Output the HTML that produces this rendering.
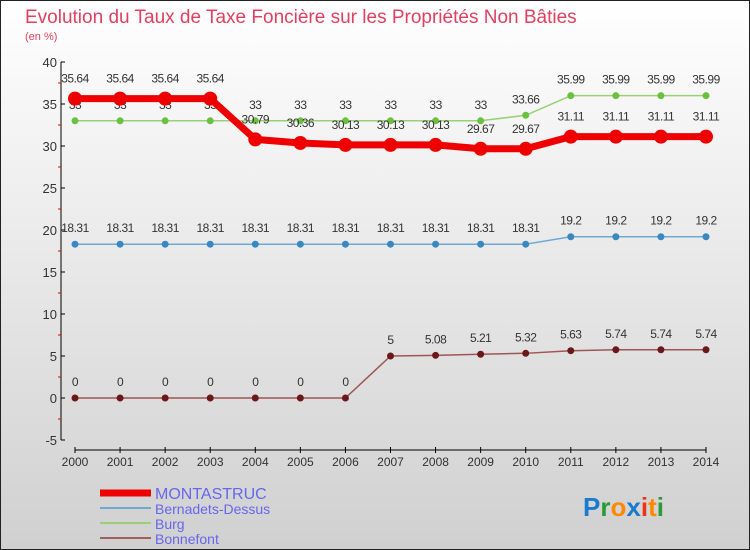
<!DOCTYPE html>
<html><head><meta charset="utf-8"><style>
html,body{margin:0;padding:0}
body{width:750px;height:550px;overflow:hidden;font-family:"Liberation Sans",sans-serif}
#wrap{position:absolute;left:0;top:0;width:748px;height:548px;border:1px solid #222;background:linear-gradient(#ffffff,#d0d0d0)}
</style></head><body>
<div id="wrap"></div>
<svg id="chart" width="750" height="550" style="position:absolute;left:0;top:0">
<text x="25" y="23" font-size="19" fill="#e04060">Evolution du Taux de Taxe Foncière sur les Propriétés Non Bâties</text>
<text x="25" y="40" font-size="11" fill="#e04060">(en %)</text>
<g id="axes"></g><g id="series"></g>
<g>
<line x1="100" y1="493" x2="151" y2="493" stroke="#ee0000" stroke-width="7"/>
<text x="155" y="499" font-size="16" fill="#6666ee">MONTASTRUC</text>
<line x1="100" y1="508" x2="151" y2="508" stroke="#6fa8d0" stroke-width="2"/>
<text x="155" y="514" font-size="14" fill="#6666ee">Bernadets-Dessus</text>
<line x1="100" y1="523" x2="151" y2="523" stroke="#99d077" stroke-width="2"/>
<text x="155" y="529" font-size="14" fill="#6666ee">Burg</text>
<line x1="100" y1="538" x2="151" y2="538" stroke="#a06060" stroke-width="2"/>
<text x="155" y="544" font-size="14" fill="#6666ee">Bonnefont</text>
</g>
<text x="583" y="516" font-size="26" font-weight="bold"><tspan fill="#1a7acc">P</tspan><tspan fill="#2a9a3a">r</tspan><tspan fill="#ff8800">o</tspan><tspan fill="#1a7acc">x</tspan><tspan fill="#ee3311">i</tspan><tspan fill="#ff8800">t</tspan><tspan fill="#2a9a3a">i</tspan></text>
</svg>
<script>
const years=[2000,2001,2002,2003,2004,2005,2006,2007,2008,2009,2010,2011,2012,2013,2014];
const montastruc=[35.64,35.64,35.64,35.64,30.79,30.36,30.13,30.13,30.13,29.67,29.67,31.11,31.11,31.11,31.11];
const bernadets=[18.31,18.31,18.31,18.31,18.31,18.31,18.31,18.31,18.31,18.31,18.31,19.2,19.2,19.2,19.2];
const burg=[33,33,33,33,33,33,33,33,33,33,33.66,35.99,35.99,35.99,35.99];
const bonnefont=[0,0,0,0,0,0,0,5,5.08,5.21,5.32,5.63,5.74,5.74,5.74];
const yTicks=[-5,0,5,10,15,20,25,30,35,40];
const NS="http://www.w3.org/2000/svg";
const X=i=>75+i*(706-75)/(years.length-1);
const Y=v=>398-v*8.4;
function mk(t,a,p){const e=document.createElementNS(NS,t);for(const k in a)e.setAttribute(k,a[k]);p.appendChild(e);return e;}
const ax=document.getElementById('axes');
let l=mk('line',{x1:61,y1:62,x2:61,y2:440,stroke:'#000','stroke-width':1},ax);


yTicks.forEach(v=>{
  mk('line',{x1:61,y1:Y(v),x2:65,y2:Y(v),stroke:'#000'},ax);
  if(v<40) mk('line',{x1:58,y1:Y(v+2.5),x2:61,y2:Y(v+2.5),stroke:'#e00'},ax);
  const t=mk('text',{x:57,y:Y(v)+5,'font-size':13,fill:'#333','text-anchor':'end'},ax);
  t.textContent=v;
  
  
});
l=mk('line',{x1:75,y1:450,x2:706,y2:450,stroke:'#000'},ax);


years.forEach((y,i)=>{
  mk('line',{x1:X(i),y1:447,x2:X(i),y2:453,stroke:'#000'},ax);
  const t=mk('text',{x:X(i),y:466,'font-size':12,fill:'#333','text-anchor':'middle'},ax);
  t.textContent=y;
  
  
});
const sg=document.getElementById('series');
function series(name,vals,color,dot,w,r,lblOff){
  const g=mk('g',{},sg);
  
  
  const pts=vals.map((v,i)=>X(i)+','+Y(v)).join(' ');
  mk('polyline',{points:pts,fill:'none',stroke:color,'stroke-width':w,'stroke-linejoin':'round'},g);
  vals.forEach((v,i)=>{
    const c=mk('circle',{cx:X(i),cy:Y(v),r:r,fill:dot},g);
    
    
    const t=mk('text',{x:X(i),y:Y(v)-lblOff,'font-size':12,fill:'#333','text-anchor':'middle','letter-spacing':'-0.5'},g);
    t.textContent=v;
    
    
  });
}
series('bonnefont',bonnefont,'#a05555','#6a1818',1.5,3.5,12);
series('bernadets-dessus',bernadets,'#6fa8d0','#3a88c0',1.5,3.5,12);
series('burg',burg,'#99d077','#6cc040',1.5,3.5,12);
series('montastruc',montastruc,'#ee0000','#ee0000',7,7,16);
</script>
</body></html>
